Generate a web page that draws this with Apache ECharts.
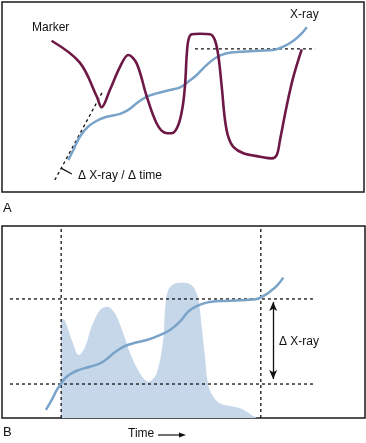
<!DOCTYPE html>
<html><head><meta charset="utf-8">
<script src="https://cdn.jsdelivr.net/npm/echarts@6/dist/echarts.min.js"></script>
<style>html,body{margin:0;padding:0;background:#fff}#c{width:366px;height:443px}</style>
</head><body><div id="c"></div>
<script>
// Panel A: marker concentration over time (time 0-100, value 0-100)
var markerA = [[13.7,79.6],[21.5,68.1],[26.2,50.2],[27.5,44.6],[29.8,53.7],[32.6,65.9],[34.9,72.1],[37.2,67.7],[40.0,50.2],[42.7,36.2],[45.0,31.2],[46.9,30.9],[48.7,35.3],[49.9,44.9],[50.6,57.2],[51.0,71.2],[51.5,80.0],[52.4,83.0],[54.7,83.3],[57.5,83.0],[58.8,80.0],[59.8,71.2],[60.7,55.4],[61.6,37.9],[62.5,29.1],[63.9,23.8],[66.7,20.4],[71.3,18.6],[74.5,17.7],[75.9,19.5],[76.8,27.4],[78.6,44.9],[80.5,60.7],[82.8,75.1]];
var xrayA = [[18.3,16.8],[19.7,22.1],[21.5,29.1],[23.8,34.4],[26.2,37.5],[28.9,39.6],[32.6,41.1],[34.9,43.2],[37.2,46.7],[40.0,50.2],[42.7,51.9],[46.4,53.7],[49.2,55.1],[51.5,58.1],[53.8,61.6],[56.5,66.8],[59.3,70.9],[62.1,73.0],[65.7,73.8],[71.3,74.4],[74.9,74.7],[77.7,76.5],[80.5,79.6],[82.8,83.5],[84.2,86.7]];
var plateauA = [[53.3,75.3],[86.5,75.3]];
var tangentA = [[14.6,6.3],[27.9,53.2]];
var tickA = [[16.3,12.6],[19.3,9.5]];
// Panel B
var xrayB = [[12.1,4.2],[13.7,9.4],[15.1,14.6],[16.3,17.9],[17.8,21.5],[20.6,24.6],[24.2,26.7],[27.0,28.5],[28.8,30.6],[30.7,33.7],[33.4,37.1],[36.2,38.9],[39.9,40.6],[43.5,43.2],[46.3,45.8],[49.0,50.2],[51.3,55.4],[53.6,58.3],[56.4,60.1],[60.1,60.9],[67.4,61.5],[70.2,62.0],[72.0,63.5],[73.8,65.8],[75.7,68.8],[77.5,73.1]];
var aucB = [[16.3,0],[16.3,51.0],[16.9,51.4],[17.8,48.4],[19.2,40.6],[21.2,32.8],[22.9,37.1],[24.7,47.6],[27.0,56.3],[29.0,58.0],[31.1,54.5],[33.4,44.1],[35.3,33.7],[38.0,23.3],[40.3,18.9],[42.6,23.3],[44.4,40.6],[44.9,56.3],[45.8,66.7],[47.7,70.1],[50.4,70.5],[52.7,68.4],[54.1,61.5],[55.0,47.6],[55.9,31.9],[56.8,17.2],[58.2,11.1],[60.1,7.6],[62.8,6.3],[65.6,5.1],[67.4,3.3],[69.2,1.0],[70.2,0]];
var vStartB = 16.3, vEndB = 71.3;
var hTopB = 62.0, hBotB = 17.7;
var hSpanB = [2.2, 85.7];
var arrowB = [74.7, 60.4, 20.3];

var FONT = 'Liberation Sans, Arial, sans-serif';
var MAROON = '#6e1845', BLUE = '#7aa3c9', FILL = '#c5d7e9';
var dashStyle = {color:'#111', width:1.3, type:[3,3]};

function seg(gi, data, style){
  return {type:'line', xAxisIndex:gi, yAxisIndex:gi, data:data, symbol:'none', silent:true, lineStyle:style, z:3};
}

var chart = echarts.init(document.getElementById('c'));
chart.setOption({
  animation:false,
  grid:[
    {left:2, top:2, width:362, height:190, show:true, borderColor:'#1a1a1a', borderWidth:1.5, backgroundColor:'transparent'},
    {left:2, top:226, width:363, height:192, show:true, borderColor:'#1a1a1a', borderWidth:1.5, backgroundColor:'transparent'}
  ],
  xAxis:[
    {gridIndex:0, type:'value', min:0, max:100, show:false},
    {gridIndex:1, type:'value', min:0, max:100, show:false}
  ],
  yAxis:[
    {gridIndex:0, type:'value', min:0, max:100, show:false},
    {gridIndex:1, type:'value', min:0, max:100, show:false}
  ],
  series:[
    seg(0, tangentA, dashStyle),
    seg(0, plateauA, dashStyle),
    seg(0, tickA, {color:'#111', width:1.3}),
    {type:'line', xAxisIndex:0, yAxisIndex:0, data:xrayA, symbol:'none', smooth:0.35, lineStyle:{color:BLUE, width:2.5}, z:4},
    {type:'line', xAxisIndex:0, yAxisIndex:0, data:markerA, symbol:'none', smooth:0.35, lineStyle:{color:MAROON, width:2.6}, z:5},
    {type:'line', xAxisIndex:1, yAxisIndex:1, data:aucB, symbol:'none', smooth:0.35, lineStyle:{width:0}, areaStyle:{color:FILL, opacity:1}, z:1},
    seg(1, [[vStartB,0],[vStartB,100]], dashStyle),
    seg(1, [[vEndB,0],[vEndB,100]], dashStyle),
    seg(1, [[hSpanB[0],hTopB],[hSpanB[1],hTopB]], dashStyle),
    seg(1, [[hSpanB[0],hBotB],[hSpanB[1],hBotB]], dashStyle),
    {type:'line', xAxisIndex:1, yAxisIndex:1, data:xrayB, symbol:'none', smooth:0.35, lineStyle:{color:BLUE, width:2.5}, z:4,
      markLine:{silent:true, symbol:['arrow','arrow'], symbolSize:[6,9], label:{show:false},
        lineStyle:{color:'#111', width:1.3, type:'solid'},
        data:[[{coord:[arrowB[0],arrowB[1]]},{coord:[arrowB[0],arrowB[2]]}]]}}
  ],
  graphic:[
    {type:'text', left:32, top:22, style:{text:'Marker', font:'12px '+FONT, fill:'#111'}},
    {type:'text', left:290, top:9, style:{text:'X-ray', font:'12px '+FONT, fill:'#111'}},
    {type:'text', left:78, top:170, style:{text:'\u0394 X-ray / \u0394 time', font:'12px '+FONT, fill:'#111'}},
    {type:'text', left:3, top:202, style:{text:'A', font:'13px '+FONT, fill:'#111'}},
    {type:'text', left:3, top:426, style:{text:'B', font:'13px '+FONT, fill:'#111'}},
    {type:'text', left:279, top:336, style:{text:'\u0394 X-ray', font:'12px '+FONT, fill:'#111'}},
    {type:'text', left:102, top:395, style:{text:'AUC of marker', font:'12px '+FONT, fill:'#111'}},
    {type:'text', left:128, top:428, style:{text:'Time', font:'12px '+FONT, fill:'#111'}},
    {type:'line', shape:{x1:158, y1:435, x2:181, y2:435}, style:{stroke:'#111', lineWidth:1.2}},
    {type:'polygon', shape:{points:[[186,435],[179,432.5],[179,437.5]]}, style:{fill:'#111'}}
  ]
});
</script></body></html>
